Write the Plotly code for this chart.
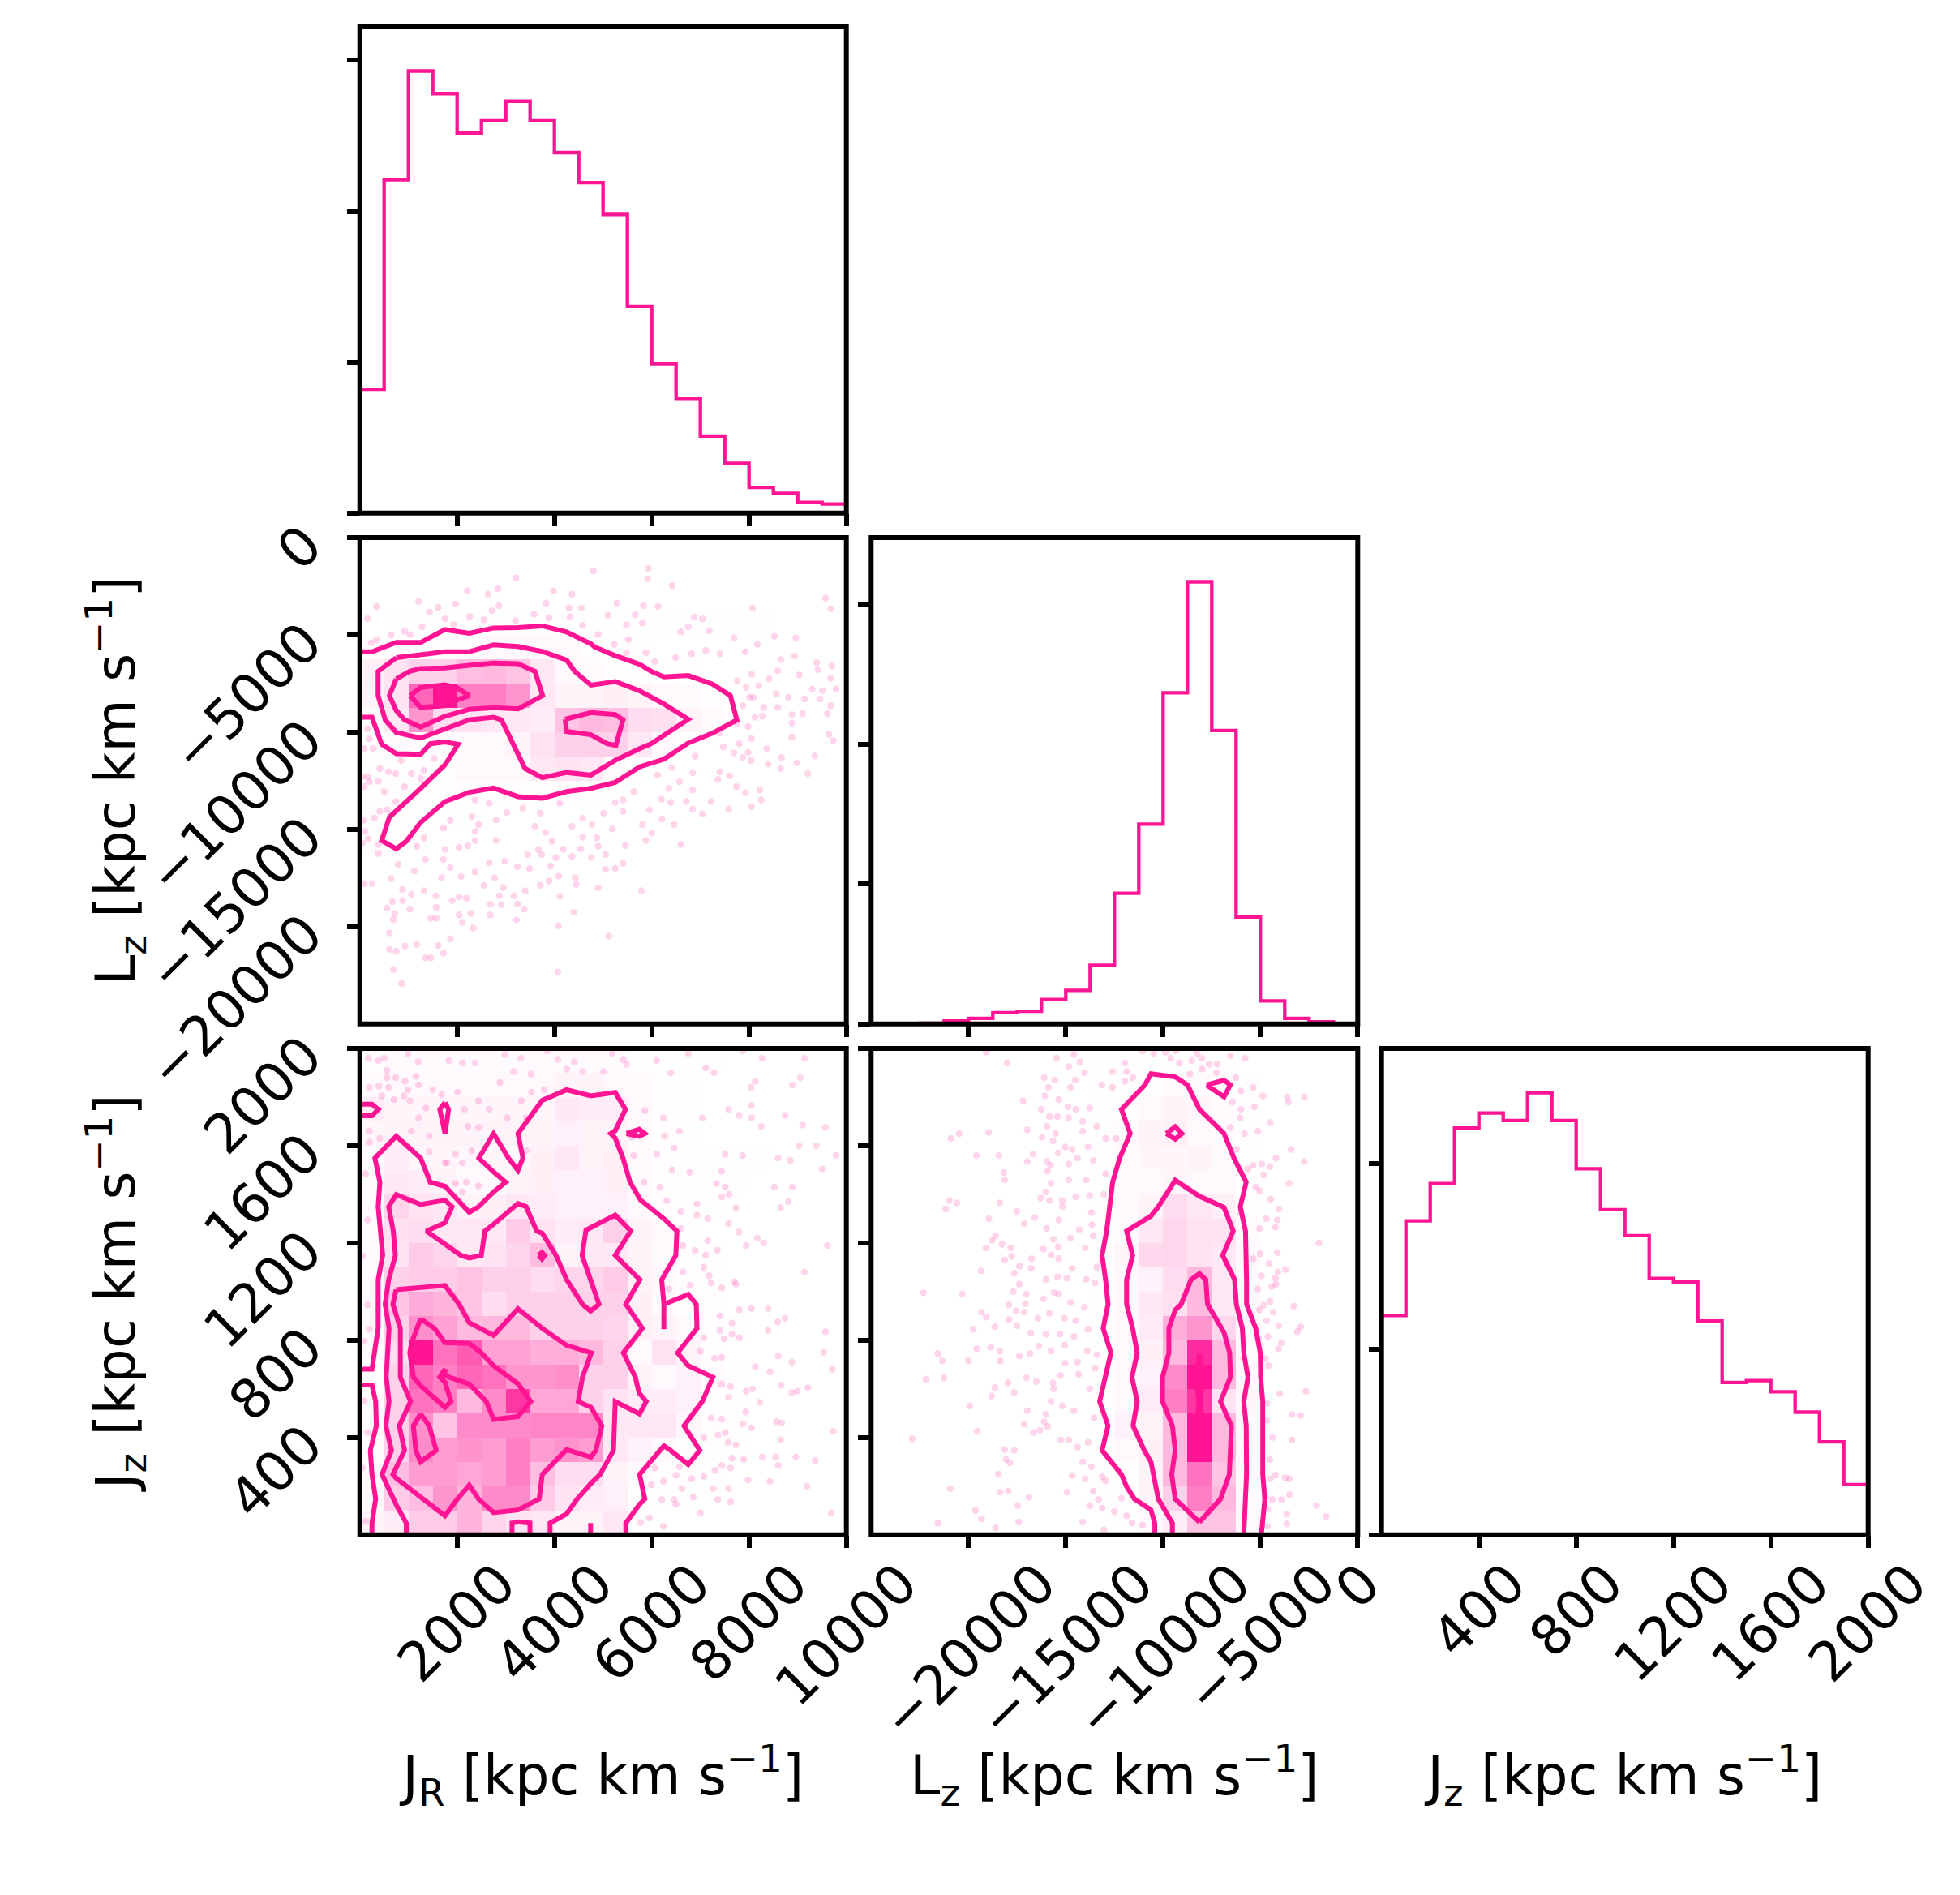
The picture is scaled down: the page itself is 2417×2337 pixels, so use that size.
import plotly.graph_objects as go

PINK = "#FF1493"
FONT = "DejaVu Sans"

# ---------- axis definitions ----------
JR_RANGE = [0, 10000]
LZ_RANGE = [-25000, 0]
JZ_RANGE = [0, 2000]
JR_TICKS = [2000, 4000, 6000, 8000, 10000]
LZ_TICKS = [-20000, -15000, -10000, -5000, 0]
JZ_TICKS = [400, 800, 1200, 1600, 2000]
JR_LABELS = ["2000", "4000", "6000", "8000", "10000"]
LZ_LABELS = ["\u221220000", "\u221215000", "\u221210000", "\u22125000", "0"]
JZ_LABELS = ["400", "800", "1200", "1600", "2000"]
JR_TITLE = "J<sub>R</sub> [kpc km s<sup>\u22121</sup>]"
LZ_TITLE = "L<sub>z</sub> [kpc km s<sup>\u22121</sup>]"
JZ_TITLE = "J<sub>z</sub> [kpc km s<sup>\u22121</sup>]"

# ---------- 1-D histograms (counts per bin) ----------
JR_HIST = [82, 221, 293, 278, 252, 260, 273, 260, 239, 219, 198, 137, 99, 76, 51, 33, 17, 13, 7, 6]
LZ_HIST = [0, 0, 1, 4, 8, 16, 18, 35, 48, 84, 187, 286, 474, 633, 420, 153, 33, 8, 3, 0]
JZ_HIST = [118, 169, 189, 219, 227, 223, 238, 223, 197, 175, 161, 138, 136, 115, 82, 83, 77, 66, 50, 27]
JR_HIST_TICKS = [0, 100, 200, 300]
LZ_HIST_TICKS = [0, 200, 400, 600]
JZ_HIST_TICKS = [0, 100, 200]

# ---------- 2-D density (row 0 is the top row of the panel) ----------
JRLZ_DENSITY = [
    [0]*20,
    [0]*20,
    [0]*20,
    [0, .004, .004, .004, .004, .004, .004, .004, .004, .004, .004, .004, .004, .004, .004, .004, .004, 0, 0, 0],
    [.008, .01, .01, .01, .01, .03, .03, .03, .03, .01, .005, .005, 0, 0, 0, 0, 0, 0, 0, 0],
    [.07, .12, .2, .2, .28, .3, .25, .1, .03, .02, .01, .01, .005, .005, 0, 0, 0, 0, 0, 0],
    [.05, .12, .65, 1.0, .55, .55, .45, .1, .05, .05, .07, .05, .03, .02, .01, 0, 0, 0, 0, 0],
    [.02, .1, .45, .15, .12, .1, .1, .08, .25, .3, .28, .15, .13, .05, .02, 0, 0, 0, 0, 0],
    [.01, .02, .02, .02, .03, .03, .05, .12, .2, .2, .2, .1, .03, .01, 0, 0, 0, 0, 0, 0],
    [.005, .005, .01, .01, .03, .03, .03, .1, .12, .1, .02, .005, 0, 0, 0, 0, 0, 0, 0, 0],
    [.01, .01, .01, .01, .01, .01, .01, .01, .01, .01, 0, 0, 0, 0, 0, 0, 0, 0, 0, 0],
    [.01, .01, .005, .005, .005, 0, 0, 0, 0, 0, 0, 0, 0, 0, 0, 0, 0, 0, 0, 0],
    [.005, .01, .005, 0, 0, 0, 0, 0, 0, 0, 0, 0, 0, 0, 0, 0, 0, 0, 0, 0],
    [0]*20, [0]*20, [0]*20, [0]*20, [0]*20, [0]*20, [0]*20,
]
JRJZ_DENSITY = [
    [.01, .02, .02, .02, .02, .02, .02, .02, .02, .02, .02, .01, .005, .005, .005, 0, 0, 0, 0, 0],
    [.02, .03, .03, .03, .03, .03, .03, .03, .05, .05, .03, .02, .01, .005, 0, 0, 0, 0, 0, 0],
    [.08, .04, .04, .04, .04, .04, .04, .04, .1, .08, .08, .03, .01, .005, 0, 0, 0, 0, 0, 0],
    [.04, .05, .05, .05, .05, .05, .05, .05, .06, .05, .05, .02, .01, .005, 0, 0, 0, 0, 0, 0],
    [.02, .08, .04, .04, .04, .04, .03, .07, .1, .05, .07, .02, .01, .005, .005, .005, .005, 0, 0, 0],
    [.02, .1, .08, .05, .03, .03, .05, .07, .06, .06, .07, .02, .01, .005, .005, .005, 0, 0, 0, 0],
    [.02, .18, .12, .1, .05, .07, .1, .08, .06, .06, .06, .03, .01, .005, .005, 0, 0, 0, 0, 0],
    [.02, .13, .15, .1, .1, .1, .22, .12, .08, .1, .2, .05, .03, .005, 0, 0, 0, 0, 0, 0],
    [.02, .12, .22, .18, .1, .12, .18, .28, .05, .1, .1, .05, .02, .005, .005, 0, 0, 0, 0, 0],
    [.02, .2, .22, .22, .25, .2, .2, .15, .18, .18, .22, .05, .03, .01, .005, 0, 0, 0, 0, 0],
    [.02, .25, .36, .32, .25, .15, .2, .2, .2, .2, .2, .07, .03, .01, .01, 0, 0, 0, 0, 0],
    [.02, .2, .48, .4, .3, .3, .3, .2, .2, .2, .18, .07, .05, .03, .01, .005, 0, 0, 0, 0],
    [.02, .15, 1.0, .6, .7, .4, .4, .35, .35, .3, .2, .03, .12, .05, .01, 0, 0, 0, 0, 0],
    [.01, .2, .65, .55, .65, .6, .45, .45, .48, .2, .2, .05, .03, .06, .02, .005, 0, 0, 0, 0],
    [.02, .2, .6, .55, .3, .5, .85, .38, .38, .2, .12, .08, .08, .06, .01, .005, 0, 0, 0, 0],
    [.02, .2, .48, .25, .5, .5, .5, .52, .52, .52, .1, .1, .1, .04, .01, .005, 0, 0, 0, 0],
    [.02, .2, .5, .42, .46, .42, .55, .42, .46, .42, .1, .06, .03, .01, .01, .005, 0, 0, 0, 0],
    [.03, .28, .42, .42, .38, .42, .55, .28, .15, .15, .05, .02, .01, .01, .005, 0, 0, 0, 0, 0],
    [.03, .22, .28, .45, .32, .5, .5, .22, .12, .08, .06, .01, .005, .005, 0, 0, 0, 0, 0, 0],
    [.05, .08, .22, .22, .32, .18, .12, .1, .05, .05, .1, .005, 0, 0, 0, 0, 0, 0, 0, 0],
]
LZJZ_DENSITY = [
    [0, 0, 0, 0, 0, 0, 0, 0, 0, .005, .005, .005, .005, .005, .005, 0, 0, 0, 0, 0],
    [0, 0, 0, 0, 0, 0, 0, 0, 0, .005, .005, .01, .02, .02, .01, .005, 0, 0, 0, 0],
    [0, 0, 0, 0, 0, 0, 0, 0, 0, .005, .01, .03, .05, .04, .02, .005, 0, 0, 0, 0],
    [0, 0, 0, 0, 0, 0, 0, 0, 0, .005, .02, .05, .07, .03, .02, .005, 0, 0, 0, 0],
    [0, 0, 0, 0, 0, 0, 0, 0, 0, .005, .02, .04, .04, .05, .02, .005, 0, 0, 0, 0],
    [0, 0, 0, 0, 0, 0, 0, 0, 0, .005, .02, .03, .04, .03, .03, .005, 0, 0, 0, 0],
    [0, 0, 0, 0, 0, 0, 0, 0, 0, .005, .02, .05, .15, .1, .07, .01, 0, 0, 0, 0],
    [0, 0, 0, 0, 0, 0, 0, 0, 0, .005, .02, .1, .17, .12, .12, .02, 0, 0, 0, 0],
    [0, 0, 0, 0, 0, 0, 0, 0, 0, .01, .04, .16, .17, .12, .1, .03, 0, 0, 0, 0],
    [0, 0, 0, 0, 0, 0, 0, 0, 0, .005, .03, .06, .15, .3, .1, .02, 0, 0, 0, 0],
    [0, 0, 0, 0, 0, 0, 0, 0, 0, .005, .03, .1, .13, .3, .1, .03, 0, 0, 0, 0],
    [0, 0, 0, 0, 0, 0, 0, 0, 0, .005, .03, .09, .35, .45, .17, .03, 0, 0, 0, 0],
    [0, 0, 0, 0, 0, 0, 0, 0, 0, .005, .03, .07, .3, .9, .3, .03, 0, 0, 0, 0],
    [0, 0, 0, 0, 0, 0, 0, 0, 0, .005, .03, .06, .5, 1.0, .3, .03, 0, 0, 0, 0],
    [0, 0, 0, 0, 0, 0, 0, 0, 0, .005, .03, .08, .55, .85, .12, .04, 0, 0, 0, 0],
    [0, 0, 0, 0, 0, 0, 0, 0, 0, .005, .06, .05, .3, 1.0, .3, .03, 0, 0, 0, 0],
    [0, 0, 0, 0, 0, 0, 0, 0, 0, .005, .03, .07, .3, 1.0, .3, .03, 0, 0, 0, 0],
    [0, 0, 0, 0, 0, 0, 0, 0, 0, .005, .01, .05, .3, .6, .25, .02, 0, 0, 0, 0],
    [0, 0, 0, 0, 0, 0, 0, 0, 0, .005, .01, .05, .2, .55, .3, .02, 0, 0, 0, 0],
    [0, 0, 0, 0, 0, 0, 0, 0, 0, 0, .005, .02, .08, .25, .25, .03, 0, 0, 0, 0],
]

# ---------- contour lines ----------
JRLZ_CONTOURS = [
    [(0,-5867),(250,-5867),(750,-5391),(1250,-5391),(1750,-4728),(2250,-4915),(2750,-4643),(3250,-4626),(3750,-4541),(4250,-4847),(4750,-5459),(4829,-5625),(5250,-6071),(5750,-6514),(5988,-6875),(6250,-7160),(6750,-7092),(7250,-7534),(7617,-8125),(7750,-9375),(7250,-10051),(6750,-10560),(6250,-11394),(5750,-11786),(5250,-12585),(4750,-12891),(4250,-13061),(3750,-13401),(3250,-13316),(2750,-12874),(2250,-13095),(1750,-13571),(1250,-14643),(956,-15612),(750,-16003),(449,-15578),(608,-14371),(1173,-13130),(1250,-12891),(1750,-11684),(2020,-10625),(1750,-10510),(1448,-10596),(1250,-11140),(750,-11106),(449,-10625),(250,-9235),(0,-9235)],
    [(750,-6174),(1250,-6037),(1750,-5867),(2250,-5867),(2750,-5510),(3250,-5595),(3750,-5850),(4250,-6293),(4417,-6875),(4750,-7585),(5250,-7398),(5750,-7874),(6250,-8554),(6750,-9337),(6250,-10136),(5988,-10596),(5750,-10851),(5250,-11446),(4750,-12211),(4250,-12075),(3750,-12347),(3396,-11871),(2911,-9371),(2750,-9235),(2250,-9371),(1750,-9830),(1250,-10306),(750,-10017),(521,-9371),(376,-8125),(376,-6875),(750,-6174)],
    [(750,-7262),(1028,-6875),(1250,-6735),(1750,-6701),(2250,-6565),(2750,-6446),(3250,-6480),(3599,-6875),(3758,-8125),(3250,-8810),(2750,-8742),(2250,-8827),(1750,-9184),(1250,-9745),(920,-9371),(750,-8895),(608,-8125),(750,-7262)],
    [(4221,-9337),(4750,-8997),(5250,-9099),(5409,-9371),(5263,-10680),(5083,-10596),(4750,-10136),(4250,-9966),(4221,-9337)],
    [(1028,-8125),(1250,-7704),(1750,-7568),(1991,-7704),(2250,-8125),(1991,-8350),(1750,-8640),(1250,-8725),(1028,-8125)],
]
JRJZ_CONTOURS = [
    [(0,681),(250,681),(377,849),(377,1049),(471,1149),(377,1349),(413,1450),(311,1549),(750,1639),(1250,1549),(1448,1450),(1750,1433),(2250,1326),(2440,1349),(2750,1410),(2998,1450),(2750,1492),(2447,1549),(2750,1650),(3056,1549),(3250,1499),(3353,1549),(3250,1650),(3750,1787),(4250,1830),(4750,1805),(5250,1819),(5460,1749),(5250,1662),(5156,1650),(5250,1631),(5409,1549),(5554,1450),(5771,1376),(6250,1300),(6517,1249),(6495,1149),(6205,1049),(6250,948),(6249,845),(6250,948),(6750,988),(6915,948),(6930,849),(6531,748),(6750,695),(7256,648),(7038,548),(6662,448),(6988,347),(6750,289),(6387,347),(6250,366),(5750,248),(5858,147),(5750,125),(5467,48),(5467,0)],
    [(0,616),(250,616),(326,548),(340,448),(217,347),(250,248),(326,147),(250,48),(250,0)],
    [(0,1771),(250,1771),(380,1749),(250,1723),(0,1723)],
    [(1752,1778),(1825,1749),(1752,1650),(1644,1749),(1752,1778)],
    [(5481,1650),(5742,1668),(5858,1650),(5742,1639),(5481,1650)],
    [(3671,1149),(3744,1161),(3802,1149),(3744,1134),(3671,1149)],
    [(4743,48),(4743,0)],
    [(3128,0),(3128,48),(3250,53),(3497,48),(3497,0)],
    [(3910,0),(3910,48),(4250,86),(4468,147),(4750,211),(4938,248),(5214,347),(5250,548),(5750,497),(5887,548),(5742,583),(5662,648),(5416,748),(5807,849),(5467,948),(5756,1049),(5250,1149),(5568,1249),(5250,1315),(4649,1253),(4569,1149),(4917,948),(4743,920),(4576,948),(4250,1049),(4033,1149),(3750,1240),(3635,1249),(3418,1349),(3250,1362),(2750,1277),(2571,1249),(2498,1149),(2250,1138),(2078,1149),(1369,1249),(1750,1283),(1897,1349),(1750,1376),(1250,1358),(750,1399),(594,1349),(688,1249),(731,1149),(594,1049),(521,948),(601,849),(543,648),(601,548),(536,448),(652,347),(456,248),(750,123),(956,48),(956,0)],
    [(746,1008),(1250,1015),(1750,1025),(2042,948),(2250,872),(2750,820),(2998,872),(3250,929),(3750,849),(4250,779),(4757,748),(4576,648),(4489,548),(4750,524),(4975,448),(4851,347),(4750,319),(4250,350),(3750,248),(3686,147),(3250,102),(2750,91),(2440,147),(2250,204),(2006,147),(1750,78),(750,232),(681,248),(920,347),(811,448),(1043,548),(833,648),(833,849),(681,948),(746,1008)],
    [(1250,888),(1535,849),(1750,790),(2250,787),(2498,748),(2750,695),(3250,621),(3512,548),(3250,486),(2750,474),(2600,548),(2250,620),(1750,654),(1750,681),(1644,648),(1750,627),(1875,548),(1750,524),(1250,613),(1101,648),(1028,748),(1064,790),(1250,888)],
    [(1250,497),(1426,448),(1571,347),(1250,300),(1151,347),(1101,448),(1250,497)],
]
LZJZ_CONTOURS = [
    [(-10426,0),(-10426,48),(-10625,102),(-11473,147),(-11875,198),(-12141,248),(-13135,347),(-12828,448),(-13261,548),(-12954,648),(-12683,748),(-13080,849),(-12828,948),(-12954,1049),(-13135,1149),(-12900,1249),(-12755,1349),(-12593,1450),(-12231,1549),(-11690,1650),(-12141,1749),(-10932,1850),(-10625,1896),(-9378,1883),(-8746,1850),(-8133,1749),(-6868,1650),(-6362,1549),(-5730,1450),(-6037,1349),(-5766,1249),(-5712,1149),(-5712,1049),(-5712,948),(-5242,849),(-5007,748),(-4989,648),(-4881,548),(-4881,248),(-4773,147),(-4917,48),(-4953,0)],
    [(-9523,0),(-9523,48),(-10245,147),(-10625,300),(-10968,347),(-11545,448),(-11329,548),(-11600,648),(-11329,748),(-11564,849),(-11875,948),(-11875,1049),(-11564,1149),(-11875,1249),(-10625,1311),(-10245,1349),(-9378,1458),(-8133,1392),(-6868,1346),(-6398,1249),(-6940,1149),(-6326,1049),(-6236,948),(-5929,849),(-5856,748),(-5640,648),(-5856,548),(-5730,448),(-5712,248),(-5856,48),(-5856,0)],
    [(-8133,52),(-9378,147),(-9559,248),(-9378,347),(-9523,448),(-10028,548),(-10028,648),(-9703,748),(-9703,849),(-9378,924),(-9071,948),(-8565,1049),(-8133,1074),(-7807,1049),(-7717,948),(-6868,831),(-6579,748),(-6543,648),(-7049,548),(-6489,448),(-6597,248),(-7049,147),(-8133,52)],
    [(-8133,742),(-7951,648),(-8078,548),(-7987,448),(-8133,347),(-8259,448),(-8168,548),(-8313,648),(-8133,742)],
    [(-7771,1850),(-6868,1869),(-6543,1850),(-6868,1801),(-7771,1850)],
    [(-9830,1650),(-9378,1678),(-9035,1650),(-9378,1627),(-9830,1650)],
]

# ---------- individual samples outside the contours ----------
JRLZ_POINTS = [
(3210,-2060),(4800,-1720),(5930,-1580),(5915,-2125),(6420,-2465),(4360,-2910),(3980,-2740),(2840,-2640),(2635,-2910),(2210,-2740),(1210,-3280),(340,-3540),(160,-4170),(1970,-3420),(1610,-3590),(1430,-3830),(1750,-4180),(2260,-4050),(2715,-3760),(2860,-3500),(3830,-3370),(4300,-3620),(4555,-3620),(5285,-3370),(5830,-3500),(6130,-3540),(5100,-4000),(5660,-3970),(3580,-3930),(4320,-4080),(3200,-4270),(6870,-4080),(7040,-4180),(8070,-3620),(9570,-3110),(9680,-3660),
(5480,-4480),(5810,-4390),(6750,-4590),(6600,-4850),(7180,-4780),(7690,-5150),(8520,-5080),(8960,-5150),(8170,-5490),(7110,-5800),(6820,-5970),(6490,-6170),(6060,-6380),(7400,-5970),(7920,-5870),(8650,-6270),(8940,-6090),(9390,-6430),(9700,-6600),(9420,-6780),(9680,-7230),(8590,-6850),(8050,-7020),(8410,-7260),(9030,-7070),(8200,-7620),(7760,-7360),(7940,-7700),(8560,-8040),(8810,-8210),(9300,-7790),(9510,-7870),(9790,-7790),(9140,-8300),(9460,-8300),(9680,-8640),(8300,-8730),(8590,-8730),(8010,-8210),(7870,-8640),(8090,-8210),(8880,-9100),(9100,-9060),(9610,-9060),(8270,-9180),(8120,-9230),(8880,-9540),(7980,-9710),(7760,-9570),(8050,-10340),(8880,-10250),(9640,-10110),(9730,-10430),(7400,-10050),(7470,-10770),(7800,-10600),(8360,-10850),(7980,-11050),(7690,-11070),(9350,-11220),(8670,-11300),(7870,-11300),(8040,-11450),(8980,-11580),(8390,-11650),(8650,-11870),(9210,-12130),(7400,-12040),(7600,-12260),(6840,-12090),(7360,-12430),(6890,-11240),(6410,-11820),(6120,-12210),
(6570,-12550),(6350,-12890),(6840,-12980),(7740,-12810),(7930,-13110),(8220,-12980),(8250,-13490),(7220,-13570),(7580,-13960),(8050,-13830),(7040,-14200),(6710,-13570),(6840,-13960),(6200,-13450),(6390,-13620),(5950,-14000),(5630,-13060),(5410,-13490),(5250,-13620),(5410,-14080),(5010,-14160),(4580,-14420),(6210,-14470),(5810,-14760),(6460,-14760),(5190,-14980),(4770,-14760),(4360,-14840),(6000,-15180),(5880,-15570),(6600,-15780),(4870,-15440),(4580,-15400),(3950,-15610),(3820,-15150),(3600,-14840),(5460,-15830),(4900,-15870),(4540,-16000),(4180,-16030),(3670,-16030),(4030,-16460),(3740,-16290),(3450,-16290),(4360,-16380),(4760,-16460),(5050,-16290),
(5410,-16750),(5250,-17010),(5050,-17060),(4430,-17490),(4090,-17400),(3920,-16890),(3490,-17010),(3240,-16920),(2980,-16630),(2660,-16720),(2370,-17190),(2080,-17430),(1680,-17480),(1860,-16970),(1720,-16550),(1350,-16550),(1120,-17140),(790,-16800),(640,-17530),(250,-17790),(90,-17790),(880,-18080),(1320,-18160),(1060,-18330),(1560,-18420),(2040,-18470),(1900,-18670),(2190,-18540),(2550,-17870),(2770,-17490),(2950,-18000),(2870,-18420),(3170,-18420),(3400,-18160),(3710,-17870),(3890,-17650),(4450,-17830),(4900,-18000),(5790,-18160),(4110,-18450),(2690,-18840),(2910,-18870),(3240,-18840),(3380,-19100),(880,-18670),(670,-18720),(560,-19050),(1030,-19100),(1570,-19010),(720,-19320),(690,-19640),(2040,-19400),(2280,-19320),(2680,-19400),(3220,-19660),(4400,-19270),(1460,-19570),(1570,-19560),(2110,-19780),(2330,-20070),(4080,-19950),(610,-20320),(1860,-20630),(1170,-20920),(1610,-20970),(610,-21170),(930,-21000),(750,-21270),(1720,-21360),(1350,-21600),(1460,-21600),(690,-22210),(860,-22930),(4070,-22330),(5120,-20490),
(90,-12800),(50,-12300),(195,-12550),(380,-12520),(500,-13060),(740,-13570),(410,-14080),(560,-14000),(70,-14540),(300,-14420),(110,-15100),(175,-15490),(50,-15700),(380,-15780),(380,-16240),(590,-12040),(740,-12130),(410,-11870),(160,-12300),(920,-12810),(1060,-12130),(1320,-11960),(1250,-12380),(1530,-11360),(850,-11450),(195,-10340),(85,-10850),(270,-10850),(160,-9830),
(2370,-13490),(2660,-13660),(3020,-14130),(3350,-13910),(3710,-14160),(4110,-13660),(1860,-14540),(2300,-14340),(2440,-14760),(2800,-14510),(1720,-14930),(2370,-15100),(2800,-15580),(2370,-15580),(2040,-15920),(2220,-15840),(1750,-16040),(1170,-15870),(1320,-15440),
(920,-4810),(640,-5000),(230,-5410),(340,-5240),(1030,-4980),(1280,-4590),(1930,-4470),(2550,-4220),(3890,-4130),(4580,-4510),(4900,-4980),(5520,-5240),(5230,-5490),(5480,-5920),(5880,-5920),
]
JRJZ_POINTS = [
(180,1960),(380,1950),(500,1960),(990,1980),(1200,1945),(560,1910),(740,1880),(560,1880),(930,1865),(1150,1885),(390,1845),(195,1840),(590,1840),(990,1830),(1210,1850),(700,1790),(910,1805),(450,1805),(1030,1785),(1500,1830),(1680,1810),(1830,1950),(2110,1940),(2370,1940),(2980,1975),(3310,1960),(3160,1905),(3520,1895),(4070,1955),(4410,1945),(4250,1915),(4580,1905),(5010,1905),(5480,1935),(5410,1955),(6100,1950),(6390,1900),(7110,1920),(7280,1900),(8270,1960),(9140,1960),(7870,1990),(6750,1980),(5190,1980),(3850,1990),(9050,1880),(8130,1865),(8890,1850),(8040,1840),(8050,1765),(8050,1715),(7580,1750),(7800,1725),(7040,1715),(8740,1725),(8250,1680),(9100,1685),(9570,1675),(9030,1600),(9380,1600),(8600,1550),(8850,1540),(7870,1560),(7510,1565),(9790,1560),(9500,1505),(7440,1495),(6780,1490),(6420,1500),(7330,1445),(7510,1430),(8520,1430),(8890,1430),(7590,1400),(7440,1390),(8810,1370),(8650,1345),(7730,1345),(6930,1360),(6930,1315),(6600,1330),(6310,1375),(7150,1300),(7580,1280),(7790,1245),(9610,1190),(8170,1220),(7940,1190),(8300,1200),(7150,1210),(6890,1170),(7110,1150),(7350,1170),(7070,1100),(9140,1080),(7180,1065),(6640,1080),(7220,1035),(7690,1040),(7440,1015),(6790,1025),(7730,1030),(6350,1010),(8050,930),(8390,930),(7400,900),(7800,925),(7650,870),(8740,890),(8590,875),(7400,840),(8390,840),(9570,835),(7490,805),(7070,810),(7650,825),(7800,810),(9530,750),(8600,735),(7440,730),(7290,725),(7000,755),(8880,710),(8130,690),(9710,680),(8430,670),(8660,615),(7440,620),(9210,605),(8990,590),(8880,585),(7620,610),(8070,600),(7940,590),(8220,545),(7580,565),(7930,505),(7440,475),(8560,465),(8670,460),(7870,455),(8050,440),(7510,420),(9730,425),(7220,480),(7360,410),(8650,390),(7570,380),(7730,370),(7070,400),(8960,320),(9360,305),(8270,320),(8550,320),(7890,310),(7650,315),(8600,285),(7300,265),(7620,275),(7440,285),(7980,225),(8430,220),(9190,200),(7580,190),(7260,190),(7070,240),(6820,230),(6570,280),(6500,245),(6060,275),(6240,220),(5990,205),(6620,190),(6850,155),(7360,145),(7620,135),(6500,125),(6460,145),(6210,145),(7000,90),(9690,90),(6240,35),(5770,50),(5950,70),
(195,1615),(410,1630),(195,1660),(1060,1660),(1430,1640),(1430,1575),(1790,1530),(2110,1530),(2220,1680),(2440,1675),(1790,1715),(2150,1750),(2660,1750),(3030,1715),(3420,1715),(3530,1820),(3790,1830),(3320,1785),(2440,1785),(2010,1820),(2880,1860),(1360,1755),(1210,1715),(1970,1445),(2190,1450),(2110,1410),(2440,1435),(1750,1530),(1970,1565),(2300,1580),(3420,1580),
(5860,1745),(6240,1715),(6570,1660),(6100,1565),(5630,1560),(5840,1450),(6170,1430),(6270,1640),(6460,1590),(5810,1650),(5590,1635),(6600,1260),(6640,1190),
(120,1485),(50,1145),(160,945),(195,845),(90,795),(90,550),(160,420),(50,275),(120,55),(160,1295),
]
LZJZ_POINTS = [
(-19090,1985),(-18010,1940),(-15480,1960),(-14580,1975),(-14850,1925),(-14270,1945),(-14040,1900),(-16110,1880),(-15570,1870),(-14520,1870),(-14760,1840),(-15900,1840),(-12600,1905),(-11960,1940),(-11870,1905),(-11560,1880),(-11960,1865),(-12600,1840),(-13140,1850),(-11060,1990),(-10480,1980),(-9880,1985),(-9340,1990),(-9610,1960),(-9160,1940),(-8530,1950),(-8260,1980),(-8020,1960),(-7630,1935),(-7230,1935),(-6540,1970),(-5780,1960),(-8620,1895),(-7990,1915),(-7260,1900),(-6270,1880),(-5370,1840),(-6000,1825),(-4880,1805),(-3620,1800),(-3560,1780),(-2750,1800),(-6450,1780),(-6000,1750),(-5310,1760),(-6040,1715),(-4500,1695),(-5820,1650),(-5130,1660),(-6540,1675),(-6220,1585),(-3420,1585),(-4200,1550),(-2750,1535),(-5370,1520),(-4930,1525),(-4520,1515),(-4830,1480),(-5640,1505),(-3530,1445),(-5240,1430),(-5040,1415),(-4470,1380),(-6040,1325),(-4050,1340),(-4700,1300),(-4130,1295),(-5040,1260),(-4230,1265),(-1990,1200),(-4130,1160),(-5010,1155),(-5370,1135),(-4560,1115),(-3710,1090),(-4100,1080),(-4230,1055),(-4950,1065),(-4200,1030),(-4420,1020),(-5130,1010),(-4500,960),(-4830,945),(-5040,925),(-3290,940),(-4340,915),(-4680,880),(-4070,860),(-2930,855),(-3110,835),(-4610,815),(-3920,790),(-5100,810),(-4070,765),(-4740,725),(-4590,695),(-2660,590),(-4010,580),(-4650,540),(-3380,495),(-2930,490),(-4650,470),(-4380,400),(-3380,390),(-4520,310),(-4230,245),(-3500,230),(-3730,235),(-4500,230),(-4740,155),(-3920,145),(-3500,165),(-4380,145),(-4650,105),(-2120,120),(-1630,75),(-3650,85),(-3650,45),(-4650,35),
(-20480,1650),(-20900,1630),(-18970,1655),(-16980,1665),(-19600,1560),(-18440,1560),(-16690,1565),(-16980,1535),(-15970,1535),(-18190,1490),(-18140,1460),(-17200,1785),(-16260,1750),(-15840,1720),(-16080,1805),(-15360,1790),(-14890,1760),(-14490,1750),(-13770,1755),(-15430,1720),(-14860,1715),(-15970,1680),(-15530,1650),(-16210,1635),(-15660,1620),(-15030,1595),(-14670,1585),(-14400,1550),(-15390,1570),(-15790,1520),(-15930,1495),(-14850,1525),(-14130,1700),(-14130,1660),(-13410,1680),(-12950,1630),(-12410,1630),(-13860,1595),(-13590,1540),(-12950,1485),(-13950,1460),(-14850,1460),(-15760,1445),(-16020,1410),(-16290,1385),(-15840,1375),(-15180,1375),(-14490,1390),(-13770,1395),(-13040,1400),(-20990,1375),(-20590,1365),(-21170,1340),(-18390,1365),(-17520,1330),(-18950,1300),(-17140,1280),(-16600,1305),(-15180,1350),(-13680,1325),(-15360,1295),(-15990,1260),(-13660,1275),(-14310,1255),(-18610,1230),(-18790,1210),(-19090,1180),(-18280,1195),(-17830,1180),(-18140,1130),(-17780,1145),(-16750,1135),(-15630,1215),(-14760,1220),(-16150,1175),(-15390,1185),(-14000,1180),(-13590,1230),(-15750,1150),(-15360,1135),(-14670,1095),(-13410,1100),(-19360,1085),(-17380,1105),(-16780,1095),(-17650,1075),(-16020,1050),(-15430,1060),(-14940,1055),(-13950,1050),(-13500,1035),(-17380,1030),(-17700,1000),(-22310,995),(-20320,990),(-17020,990),(-16150,970),(-15610,995),(-14760,955),(-14040,935),(-15360,990),(-17920,945),(-17070,950),(-19330,915),(-19090,895),(-17560,920),(-17140,915),(-16440,890),(-15840,910),(-15070,890),(-14490,880),(-17920,885),(-19760,845),(-18640,855),(-17520,860),(-16800,830),(-16020,825),(-15300,825),(-14580,815),(-13860,845),(-19580,765),(-18860,770),(-18390,755),(-21570,745),(-21350,715),(-20010,715),(-18370,715),(-17380,735),(-16840,745),(-16390,775),(-15760,755),(-15060,780),(-13900,755),(-13400,740),(-15030,705),(-14400,710),(-13500,685),(-22200,640),(-21260,645),(-17020,645),(-16510,630),(-15270,655),(-14340,660),(-15660,625),(-17970,625),(-18640,605),(-18820,570),(-17650,585),(-15620,600),(-13770,600),(-15750,548),(-19940,530),(-15180,530),(-16980,510),(-14580,510),(-16020,495),(-13550,480),(-16110,465),(-17140,455),(-15930,445),(-19550,425),(-16660,420),(-16330,430),(-22890,395),(-15250,390),(-14850,390),(-14400,360),(-13860,380),(-18140,350),(-17650,347),(-18070,310),(-17870,295),(-14130,300),(-13680,280),(-18460,248),(-14670,243),(-14000,230),(-13130,238),(-20940,190),(-14940,175),(-18370,175),(-17960,180),(-16890,155),(-17470,120),(-19640,100),(-19330,65),(-21570,48),(-18610,28),(-17410,52),(-14130,52),(-13040,20),(-13590,180),(-12950,222),(-12140,150),(-13130,110),(-12500,95),(-11870,78),(-11060,40),(-11600,48),(-13770,120),(-13320,145),
]

# ---------- layout constants ----------
W, H = 2417, 2337
COLS = [(443.7, 1043.7), (1074.3, 1674.3), (1703.7, 2303.7)]
ROWS = [(33.0, 632.7), (663.0, 1262.7), (1293.0, 1892.7)]
FRAME = 6
TICK_FS = 67
TITLE_FS = 67
X_LABEL_TOP = 1912
Y_LABEL_RIGHT = 414
Y_LABEL_SHIFT = 32


def axid(n):
    return "" if n == 1 else str(n)


def bin_centers(r):
    w = (r[1] - r[0]) / 20
    return [r[0] + w * (i + 0.5) for i in range(20)]


def bin_edges(r):
    w = (r[1] - r[0]) / 20
    return [r[0] + w * i for i in range(21)]


fig = go.Figure()
SCALE = [[0, "#FFFFFF"], [1, PINK]]


def add_hist(n, rng, counts):
    fig.add_trace(go.Scatter(x=bin_edges(rng), y=counts + [counts[-1]], mode="lines",
                             line=dict(color=PINK, width=4.3, shape="hv"),
                             xaxis="x" + axid(n), yaxis="y" + axid(n), showlegend=False, hoverinfo="skip"))


def add_2d(n, xr, yr, grid, pts, contours):
    xa, ya = "x" + axid(n), "y" + axid(n)
    fig.add_trace(go.Heatmap(x=bin_centers(xr), y=bin_centers(yr)[::-1], z=grid, zmin=0, zmax=1,
                             colorscale=SCALE, showscale=False, xaxis=xa, yaxis=ya, hoverinfo="skip"))
    fig.add_trace(go.Scatter(x=[p[0] for p in pts], y=[p[1] for p in pts], mode="markers",
                             marker=dict(color=PINK, size=8.5, opacity=0.18, line=dict(width=0)),
                             xaxis=xa, yaxis=ya, showlegend=False, hoverinfo="skip"))
    for c in contours:
        fig.add_trace(go.Scatter(x=[p[0] for p in c], y=[p[1] for p in c], mode="lines",
                                 line=dict(color=PINK, width=6),
                                 xaxis=xa, yaxis=ya, showlegend=False, hoverinfo="skip"))


add_hist(1, JR_RANGE, JR_HIST)
add_2d(2, JR_RANGE, LZ_RANGE, JRLZ_DENSITY, JRLZ_POINTS, JRLZ_CONTOURS)
add_hist(3, LZ_RANGE, LZ_HIST)
add_2d(4, JR_RANGE, JZ_RANGE, JRJZ_DENSITY, JRJZ_POINTS, JRJZ_CONTOURS)
add_2d(5, LZ_RANGE, JZ_RANGE, LZJZ_DENSITY, LZJZ_POINTS, LZJZ_CONTOURS)
add_hist(6, JZ_RANGE, JZ_HIST)

PANELS = [
    (1, 0, 0, JR_RANGE, JR_TICKS, [0, 1.1 * max(JR_HIST)], JR_HIST_TICKS),
    (2, 0, 1, JR_RANGE, JR_TICKS, LZ_RANGE, LZ_TICKS),
    (3, 1, 1, LZ_RANGE, LZ_TICKS, [0, 1.1 * max(LZ_HIST)], LZ_HIST_TICKS),
    (4, 0, 2, JR_RANGE, JR_TICKS, JZ_RANGE, JZ_TICKS),
    (5, 1, 2, LZ_RANGE, LZ_TICKS, JZ_RANGE, JZ_TICKS),
    (6, 2, 2, JZ_RANGE, JZ_TICKS, [0, 1.1 * max(JZ_HIST)], JZ_HIST_TICKS),
]
layout = dict(width=W, height=H, margin=dict(l=0, r=0, t=0, b=0, pad=0), paper_bgcolor="white",
              plot_bgcolor="white", showlegend=False, font=dict(family=FONT, color="black"))
shapes = []
AX = dict(showgrid=False, zeroline=False, showline=False, ticks="outside", ticklen=15, tickwidth=FRAME,
          tickcolor="black", tickmode="array", showticklabels=False, automargin=False, fixedrange=True)
for n, c, r, xr, xt, yr, yt in PANELS:
    x0, x1 = COLS[c]
    y0, y1 = ROWS[r]
    layout["xaxis" + axid(n)] = dict(AX, domain=[x0 / W, x1 / W], range=xr, tickvals=xt, anchor="y" + axid(n))
    layout["yaxis" + axid(n)] = dict(AX, domain=[1 - y1 / H, 1 - y0 / H], range=yr, tickvals=yt, anchor="x" + axid(n))
    shapes.append(dict(type="rect", xref=f"x{axid(n)} domain", yref=f"y{axid(n)} domain", x0=0, x1=1, y0=0, y1=1,
                       line=dict(color="black", width=FRAME), layer="above"))

# axis titles
for n, t in ((4, JR_TITLE), (5, LZ_TITLE), (6, JZ_TITLE)):
    layout["xaxis" + axid(n)]["title"] = dict(text=t, font=dict(family=FONT, size=TITLE_FS), standoff=258)
for n, t in ((2, LZ_TITLE), (4, JZ_TITLE)):
    layout["yaxis" + axid(n)]["title"] = dict(text=t, font=dict(family=FONT, size=TITLE_FS), standoff=239)

# rotated tick labels, positioned by their axes
ann = []
for n, vals, labels in ((4, JR_TICKS, JR_LABELS), (5, LZ_TICKS, LZ_LABELS), (6, JZ_TICKS, JZ_LABELS)):
    for v, s in zip(vals, labels):
        ann.append(dict(x=v, y=1 - X_LABEL_TOP / H, xref="x" + axid(n), yref="paper", text=s, textangle=-45,
                        showarrow=False, xanchor="center", yanchor="top",
                        font=dict(family=FONT, size=TICK_FS, color="black"), borderpad=0))
for n, vals, labels in ((2, LZ_TICKS, LZ_LABELS), (4, JZ_TICKS, JZ_LABELS)):
    for v, s in zip(vals, labels):
        ann.append(dict(x=Y_LABEL_RIGHT / W, y=v, xref="paper", yref="y" + axid(n), text=s, textangle=-45,
                        showarrow=False, xanchor="right", yanchor="top", yshift=Y_LABEL_SHIFT,
                        font=dict(family=FONT, size=TICK_FS, color="black"), borderpad=0))
layout["annotations"] = ann
layout["shapes"] = shapes
fig.update_layout(**layout)
fig.write_html("out.html", config=dict(displayModeBar=False),
               post_script="document.body.style.margin='0';document.documentElement.style.overflow='hidden';")
